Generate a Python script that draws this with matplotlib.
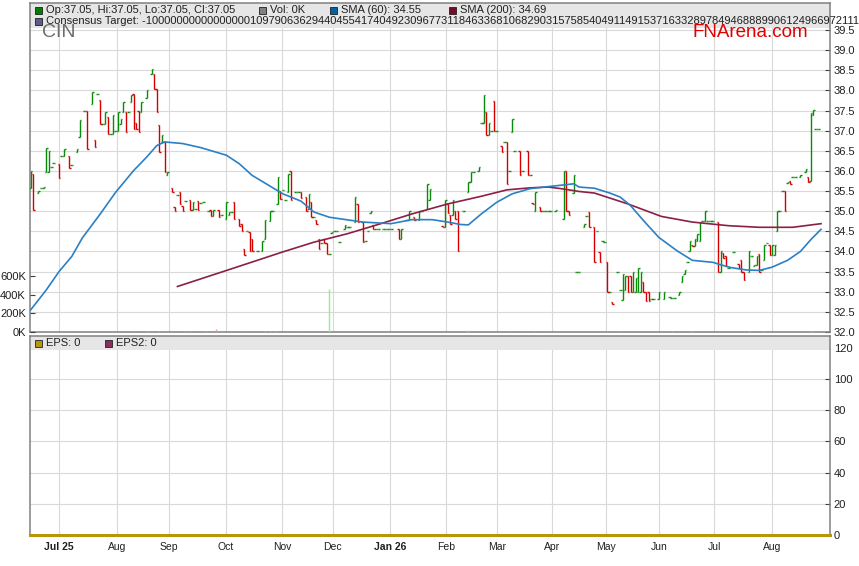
import matplotlib
matplotlib.use("Agg")
import matplotlib.pyplot as plt
from matplotlib.patches import Rectangle
import numpy as np

plt.rcParams['font.family'] = ['Liberation Sans', 'DejaVu Sans']

# ─── data (x = trading day, 0 = 1 Jul 2025) ─────────────────
month_days   = [0, 22.5, 42.7, 64.9, 86.6, 106.4, 128.6, 150.3, 170.2, 191.5, 212.5, 233.1, 254.5, 277]
month_labels = ["Jul 25", "Aug", "Sep", "Oct", "Nov", "Dec", "Jan 26",
                "Feb", "Mar", "Apr", "May", "Jun", "Jul", "Aug"]
year_labels  = ["Jul 25", "Jan 26"]

bar_day = [
    -11, -10, -8, -7, -6, -5, -4, -3, -2, 0, 1, 2, 4, 5, 7, 8, 10, 11, 13, 14,
    15, 16, 17, 18, 19, 20, 21, 22, 23, 24, 25, 26, 27, 28, 29, 30, 31, 32, 34, 36,
    37, 38, 39, 40, 41, 42, 44, 45, 46, 47, 48, 49, 51, 52, 53, 54, 55, 56, 58, 59,
    60, 62, 63, 65, 66, 67, 68, 70, 71, 72, 73, 74, 75, 77, 79, 80, 82, 83, 85, 86,
    87, 88, 89, 90, 92, 93, 94, 96, 97, 98, 99, 100, 101, 102, 103, 104, 105, 106, 107, 108,
    109, 111, 112, 113, 115, 116, 118, 119, 120, 121, 122, 123, 124, 126, 127, 128, 129, 132, 133, 135,
    136, 138, 140, 141, 143, 144, 149, 150, 151, 152, 153, 154, 155, 157, 159, 160, 161, 163, 164, 165,
    166, 167, 168, 169, 170, 172, 173, 174, 175, 176, 177, 179, 180, 182, 183, 184, 185, 187, 188, 189,
    190, 191, 193, 196, 197, 198, 200, 201, 202, 204, 205, 206, 208, 209, 210, 211, 212, 213, 214, 215,
    217, 218, 219, 220, 221, 222, 223, 224, 225, 226, 227, 228, 229, 230, 231, 233, 235, 237, 238, 239,
    241, 242, 243, 244, 245, 246, 247, 248, 249, 250, 251, 252, 253, 254, 256, 257, 258, 259, 260, 262,
    264, 265, 266, 268, 269, 270, 271, 272, 273, 274, 275, 276, 277, 278, 279, 280, 281, 282, 283, 284,
    285, 286, 288, 290, 291, 292, 293, 294, 295,
]
bar_open = [
    35.58, 35.93, 35.45, 35.57, 35.57, 35.97, 35.97, 36.10, 36.20, 36.18, 36.38, 36.38, 36.38, 36.14, 36.47, 36.83, 37.48, 37.48, 37.65, 36.76,
    37.90, 37.77, 37.17, 37.17, 37.35, 36.92, 36.92, 37.00, 37.00, 37.17, 37.46, 37.46, 37.46, 37.71, 37.90, 37.20, 37.50, 37.46, 37.81, 38.40,
    38.40, 38.04, 37.13, 36.72, 36.72, 35.89, 35.58, 35.10, 35.39, 35.47, 35.14, 35.25, 35.27, 35.02, 35.06, 35.25, 35.20, 35.22, 35.00, 35.03,
    34.87, 35.03, 34.90, 34.81, 34.90, 34.98, 35.22, 34.81, 34.68, 34.05, 34.50, 34.48, 34.30, 34.00, 34.02, 34.30, 34.75, 35.00, 35.18, 35.50,
    35.53, 35.28, 35.47, 36.00, 35.47, 35.47, 35.47, 35.35, 35.06, 35.22, 34.85, 34.78, 34.30, 34.20, 34.30, 34.20, 33.94, 34.45, 34.50, 34.50,
    34.23, 34.57, 34.60, 34.60, 34.73, 35.17, 34.73, 34.27, 34.50, 34.95, 34.65, 34.56, 34.56, 34.56, 34.56, 34.56, 34.56, 34.56, 34.30, 34.79,
    34.79, 34.85, 34.79, 35.00, 35.06, 35.27, 34.62, 34.60, 35.18, 34.90, 34.90, 35.00, 35.00, 35.00, 35.47, 35.72, 35.97, 36.00, 37.20, 37.20,
    37.46, 36.90, 37.00, 37.73, 37.00, 36.63, 36.73, 36.73, 36.00, 36.97, 36.49, 36.49, 36.00, 36.49, 35.90, 35.20, 35.00, 35.10, 35.00, 35.00,
    35.00, 35.00, 35.00, 34.80, 36.00, 35.00, 35.45, 33.50, 33.50, 34.60, 34.89, 34.97, 34.60, 34.50, 33.98, 34.27, 34.23, 33.75, 33.00, 32.75,
    33.50, 33.05, 32.80, 33.05, 33.40, 33.40, 33.00, 33.00, 33.00, 33.00, 33.25, 33.00, 33.00, 32.82, 32.82, 32.82, 32.82, 32.87, 32.85, 32.85,
    32.93, 33.23, 33.45, 33.75, 34.00, 34.17, 34.13, 34.27, 34.27, 34.75, 34.75, 34.75, 34.75, 34.75, 34.73, 33.50, 33.96, 33.88, 33.60, 33.98,
    33.68, 33.80, 33.50, 33.50, 33.88, 33.63, 33.67, 33.94, 33.54, 33.80, 34.20, 34.17, 33.92, 33.92, 34.50, 35.00, 35.50, 35.50, 35.70, 35.75,
    35.85, 35.85, 35.85, 35.97, 35.85, 35.75, 37.40, 37.05, 37.05,
]
bar_close = [
    36.00, 35.02, 35.50, 35.57, 35.60, 36.57, 36.50, 36.10, 36.20, 35.83, 36.38, 36.55, 36.08, 36.14, 36.55, 37.27, 37.48, 36.55, 37.95, 36.60,
    37.90, 37.17, 37.17, 37.46, 36.92, 36.92, 37.38, 37.00, 37.46, 37.30, 37.71, 36.97, 37.46, 37.88, 37.05, 37.05, 36.97, 37.71, 38.00, 38.54,
    38.04, 37.46, 36.47, 36.88, 35.97, 35.97, 35.47, 35.00, 35.39, 35.18, 35.00, 35.25, 35.02, 35.23, 35.06, 35.04, 35.20, 35.22, 35.00, 34.87,
    35.03, 34.85, 34.90, 35.22, 34.98, 34.98, 34.81, 34.64, 34.50, 33.90, 34.50, 34.02, 34.02, 34.00, 34.27, 34.78, 35.00, 35.00, 35.85, 35.30,
    35.53, 35.28, 35.93, 35.28, 35.47, 35.47, 35.33, 35.00, 35.42, 34.85, 34.85, 34.67, 34.05, 34.20, 34.20, 33.94, 33.94, 34.48, 34.50, 34.50,
    34.23, 34.65, 34.60, 34.60, 35.35, 34.73, 34.23, 34.27, 34.50, 35.00, 34.57, 34.56, 34.56, 34.56, 34.56, 34.56, 34.56, 34.30, 34.56, 34.79,
    35.00, 34.79, 35.00, 35.00, 35.68, 35.56, 34.60, 35.27, 34.95, 34.68, 35.28, 34.80, 34.02, 35.00, 35.72, 35.97, 35.97, 36.10, 37.20, 37.88,
    36.90, 37.20, 37.00, 37.00, 37.00, 36.47, 36.73, 35.68, 36.00, 37.28, 36.49, 35.90, 36.00, 35.90, 35.90, 35.17, 35.47, 35.00, 35.00, 35.00,
    35.00, 35.00, 35.04, 36.00, 35.00, 34.90, 35.90, 33.50, 33.50, 34.68, 34.89, 34.60, 33.75, 34.50, 33.75, 34.27, 34.23, 33.00, 33.00, 32.70,
    33.50, 33.05, 33.44, 33.40, 33.00, 33.00, 33.50, 33.35, 33.60, 33.50, 33.00, 32.77, 32.77, 32.82, 32.82, 33.00, 33.00, 32.87, 32.85, 32.85,
    33.00, 33.40, 33.53, 33.75, 34.25, 34.13, 34.30, 34.44, 34.73, 34.75, 35.00, 34.75, 34.75, 34.75, 33.50, 34.00, 33.84, 33.63, 33.60, 33.98,
    33.60, 33.50, 33.30, 34.00, 33.88, 33.67, 33.88, 33.50, 33.54, 34.17, 34.20, 33.92, 34.17, 34.17, 35.00, 35.00, 35.50, 35.00, 35.72, 35.67,
    35.85, 35.85, 35.90, 36.05, 35.72, 37.45, 37.52, 37.05, 37.05,
]

sma60_day = [-11, -5, 0, 5, 9, 16, 22, 29, 34, 38, 41, 48, 55, 65, 70, 75, 81, 87, 94, 99,
             105, 118, 129, 137, 145, 151, 156, 159, 164, 170, 176, 183, 190, 200, 202, 208, 214, 218, 222, 227,
             233, 240, 246, 254, 257, 261, 267, 272, 277, 283, 288, 292, 296]
sma60_val = [32.55, 33.04, 33.50, 33.88, 34.33, 34.93, 35.47, 36.01, 36.34, 36.63, 36.72, 36.68, 36.58, 36.39, 36.18, 35.89, 35.66, 35.43, 35.25, 34.98,
             34.85, 34.73, 34.69, 34.79, 34.79, 34.73, 34.67, 34.66, 34.93, 35.22, 35.43, 35.56, 35.61, 35.68, 35.60, 35.57, 35.45, 35.35, 35.14, 34.77,
             34.35, 34.02, 33.78, 33.73, 33.67, 33.60, 33.54, 33.53, 33.61, 33.78, 34.00, 34.29, 34.55]

sma200_day = [46, 68, 87, 99, 112, 125, 137, 151, 164, 174, 183, 190, 195, 202, 208, 221, 234, 246, 260, 272, 285, 296]
sma200_val = [33.13, 33.59, 33.99, 34.23, 34.44, 34.69, 34.93, 35.18, 35.37, 35.53, 35.58, 35.60, 35.56, 35.49, 35.45, 35.18, 34.87, 34.73, 34.64, 34.60, 34.60, 34.69]

vol_day = [-3, 4, 29, 34, 39, 49, 51, 57, 61, 71, 80, 82, 84, 94, 105, 159, 175, 180, 185, 213, 218, 238, 246, 268, 274, 292]
vol_k   = [12, 10, 8, 15, 10, 12, 8, 10, 30, 10, 12, 12, 10, 8, 460, 22, 10, 10, 10, 10, 8, 10, 12, 12, 10, 12]
vol_up  = [False, False, False, True, True, False, False, True, False, False, True, True, True, False, True,
           True, False, False, False, False, False, True, True, True, True, True]

eps_day = [-11.3, 299.3]
eps_val = [0, 0]

legend_top = [("#008000", "Op:37.05, Hi:37.05, Lo:37.05, Cl:37.05", 35, 10),
              ("#808080", "Vol: 0K", 259, 10),
              ("#0062a4", "SMA (60): 34.55", 330, 10),
              ("#7a0a2a", "SMA (200): 34.69", 449, 10),
              ("#5c5c8c", "Consensus Target: -1000000000000000010979063629440455417404923096773118463368106829031575854049114915371633289784946888990612496697211172", 35, 21)]
legend_bot = [("#b8960c", "EPS: 0", 35, 343),
              ("#8e2c5f", "EPS2: 0", 105, 343)]

# ─── layout helpers ──────────────────────────────────────
W, H = 859, 566
GREEN, RED = "#0a8a0a", "#d40000"
GRID, SPINE = "#d9d9d9", "#808080"
fx = lambda px: px / W
fy = lambda py: 1 - py / H
XL = (-11.27, 299.3)
TICKS = dict(direction="in", length=3.5, width=0.8, color="#404040", labelsize=8, pad=3, labelcolor="#202020")

fig = plt.figure(figsize=(W / 100, H / 100), dpi=100)
ax  = fig.add_axes([fx(30), fy(332), fx(829.5) - fx(30), fy(3) - fy(332)])
axb = fig.add_axes([fx(30), fy(535), fx(829.5) - fx(30), fy(336) - fy(535)])
axv = ax.twinx()   # volume, left scale (twinx resets host ticks, so set sides after)

# ─── price panel ─────────────────────────────────────────
cols = [GREEN if c >= o else RED for o, c in zip(bar_open, bar_close)]
lo = [min(o, c) for o, c in zip(bar_open, bar_close)]
hi = [max(o, c) for o, c in zip(bar_open, bar_close)]
d = np.array(bar_day, dtype=float)
ax.vlines(d, lo, hi, colors=cols, lw=1.0, zorder=3)
ax.hlines(bar_open, d - 0.55, d, colors=cols, lw=1.0, zorder=3)
ax.hlines(bar_close, d, d + 0.55, colors=cols, lw=1.0, zorder=3)
ax.plot(sma200_day, sma200_val, color="#8c1f45", lw=1.2, zorder=4)
ax.plot(sma60_day, sma60_val, color="#2b80c4", lw=1.2, zorder=4)

ax.set_xlim(*XL)
ax.set_ylim(32.0, 40.17)
yt = np.arange(32.0, 39.6, 0.5)
ax.set_yticks(yt)
ax.set_yticklabels([f"{v:.1f}" for v in yt])
ax.yaxis.tick_right()
ax.set_xticks(month_days)
ax.set_xticklabels([])
ax.tick_params(axis="x", length=0)
ax.tick_params(axis="y", **TICKS)
ax.grid(True, color=GRID, lw=0.8)
for s in ax.spines.values():
    s.set_color(SPINE); s.set_linewidth(1.1)
ax.add_patch(Rectangle((0, (332 - 28) / 329), 1, 1 - (332 - 28) / 329, transform=ax.transAxes,
                       facecolor="#e6e6e6", edgecolor="none", zorder=2.4))

vcols = ["#90ee90" if u else "#e3a0a0" for u in vol_up]
axv.vlines(vol_day, 0, vol_k, colors=vcols, lw=1.0)
axv.set_xlim(*XL)
axv.set_ylim(0, 3519)
axv.yaxis.tick_left()
axv.set_yticks([0, 200, 400, 600])
axv.set_yticklabels(["0K", "200K", "400K", "600K"])
axv.tick_params(axis="y", **TICKS)
for s in axv.spines.values():
    s.set_visible(False)

# ─── EPS panel ───────────────────────────────────────────
axb.plot(eps_day, eps_val, color="#b8960c", lw=2.2, clip_on=False, zorder=4)
axb.set_xlim(*XL)
axb.set_ylim(0, 127.7)
axb.set_yticks(range(0, 121, 20))
axb.yaxis.tick_right()
axb.tick_params(axis="y", **TICKS)
axb.set_xticks(month_days)
axb.set_xticklabels(month_labels, family=["Liberation Sans Narrow", "Liberation Sans"], fontsize=7.5, color="#202020")
for t in axb.get_xticklabels():
    if t.get_text() in year_labels:
        t.set_fontweight("bold")
axb.tick_params(axis="x", length=0, pad=5)
axb.grid(True, color=GRID, lw=0.8)
for s in axb.spines.values():
    s.set_color(SPINE); s.set_linewidth(1.1)
axb.add_patch(Rectangle((0, (535 - 350) / 199), 1, 1 - (535 - 350) / 199, transform=axb.transAxes,
                        facecolor="#e6e6e6", edgecolor="none", zorder=2.4))

# ─── legends and captions ───────────────────────────────
for color, label, x0, y0 in legend_top + legend_bot:
    fig.add_artist(Rectangle((fx(x0), fy(y0 + 3.5)), 7 / W, 7 / H, transform=fig.transFigure,
                             facecolor=color, edgecolor="#202020", lw=0.6, zorder=6))
    fig.text(fx(x0 + 11), fy(y0), label, fontsize=8, color="#202020", va="center", ha="left", zorder=6)

fig.text(fx(42), fy(32.5), "CIN", fontsize=14, color="#6c6c6c", va="center", ha="left", zorder=7)
fig.text(fx(692), fy(32.5), "FNArena.com", fontsize=13.5, color="#e00000", va="center", ha="left", zorder=7)

fig.savefig("out.png", dpi=100)
